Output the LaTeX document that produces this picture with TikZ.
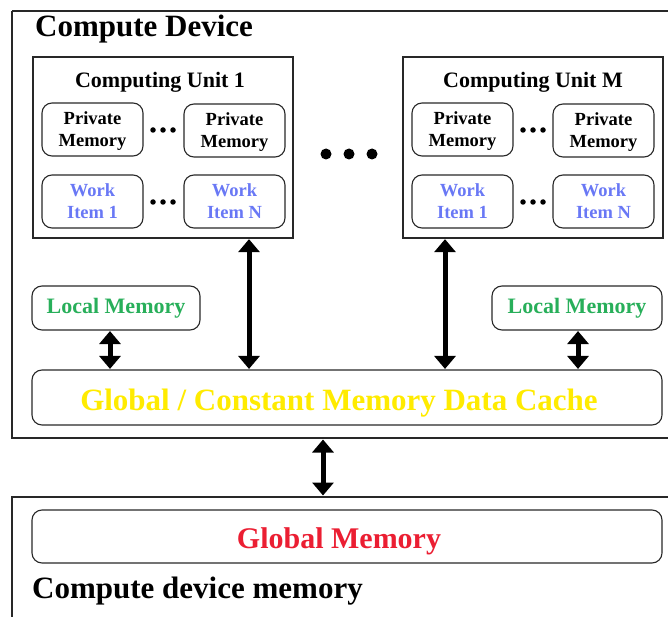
\documentclass[tikz,border=0pt]{standalone}
\usepackage{fontspec}
\setmainfont{Liberation Serif}
\usetikzlibrary{arrows.meta}

\definecolor{wiblue}{RGB}{105,120,245}
\definecolor{lmgreen}{RGB}{40,175,90}
\definecolor{cacheyellow}{RGB}{255,235,0}
\definecolor{gmred}{RGB}{235,30,50}
\definecolor{edge}{RGB}{40,40,40}

\tikzset{
  frame/.style={draw=edge, line width=1.4pt},
  unitbox/.style={draw=edge, line width=1.3pt, minimum width=260pt, minimum height=181pt, inner sep=0pt},
  rbox/.style={draw=edge, line width=1.1pt, rounded corners=10pt, inner sep=0pt, align=center,
               font=\bfseries\fontsize{18.5}{22}\selectfont},
  smallbox/.style={rbox, minimum width=101pt, minimum height=53pt},
  privbox/.style={smallbox, text depth=0pt},
  workbox/.style={smallbox, text=wiblue},
  widebox/.style={rbox, minimum width=630pt, text height=32pt, text depth=6pt},
  bigfont/.style={font=\bfseries\fontsize{31}{34}\selectfont},
  title/.style={bigfont, anchor=base west, inner sep=0pt},
  unittitle/.style={font=\bfseries\fontsize{22}{25}\selectfont, anchor=base, inner sep=0pt},
  dbl/.style={line width=5pt, {Triangle[width=21pt,length=13pt]}-{Triangle[width=21pt,length=13pt]}, shorten <=0.5pt, shorten >=0.5pt},
  sdot/.style={fill=black, circle, inner sep=0pt, minimum size=5.5pt},
  bdot/.style={fill=black, circle, inner sep=0pt, minimum size=11pt},
}

\begin{document}
\begin{tikzpicture}[x=1pt, y=-1pt]
\useasboundingbox (0,0) rectangle (668,617);

% compute device frame (runs past the right edge)
\draw[frame] (12,11) -- (680,11);
\draw[frame] (12,11) -- (12,438) -- (680,438);
\node[title] (cdtitle) at (35,37) {Compute Device};

% computing unit 1
\node[unitbox] (cu1) at (163,147.5) {};
\node[unittitle] (cu1t) at (160,88) {Computing Unit 1};
\node[privbox] (p11) at (92.5,129.5) {Private\\Memory};
\node[privbox] (p1n) at (234.5,130.5) {Private\\Memory};
\node[workbox] (w11) at (92.5,201.5) {Work\\Item 1};
\node[workbox] (w1n) at (234.5,201.5) {Work\\Item N};
\foreach \x in {153,163,173} {
  \node[sdot] (d1a\x) at (\x,130) {};
  \node[sdot] (d1b\x) at (\x,202) {};
}

% dots between computing units
\node[bdot] (bd1) at (326,154) {};
\node[bdot] (bd2) at (349,154) {};
\node[bdot] (bd3) at (372,154) {};

% computing unit M
\node[unitbox] (cum) at (533,147.5) {};
\node[unittitle] (cumt) at (533,88) {Computing Unit M};
\node[privbox] (pm1) at (462.5,129.5) {Private\\Memory};
\node[privbox] (pmn) at (603.5,130.5) {Private\\Memory};
\node[workbox] (wm1) at (462.5,201.5) {Work\\Item 1};
\node[workbox] (wmn) at (603.5,201.5) {Work\\Item N};
\foreach \x in {523,533,543} {
  \node[sdot] (dma\x) at (\x,130) {};
  \node[sdot] (dmb\x) at (\x,202) {};
}

% local memories
\node[rbox, minimum width=168pt, minimum height=44pt, text=lmgreen, font=\bfseries\fontsize{22}{25}\selectfont] (lm1) at (116,308) {Local Memory};
\node[rbox, minimum width=170pt, minimum height=44pt, text=lmgreen, font=\bfseries\fontsize{22}{25}\selectfont] (lm2) at (577,308) {Local Memory};

% global / constant cache
\node[widebox, minimum height=55pt, text=cacheyellow, bigfont] (cache) at (347,397.5) {\hspace*{-16pt}Global / Constant Memory Data Cache};

% connectors
\coordinate (a1) at (249,0);
\coordinate (a2) at (445,0);
\coordinate (a3) at (110,0);
\coordinate (a4) at (578,0);
\draw[dbl] (lm1.south -| a3) -- (cache.north -| a3);
\draw[dbl] (lm2.south -| a4) -- (cache.north -| a4);
\draw[dbl] (cu1.south -| a1) -- (cache.north -| a1);
\draw[dbl] (cum.south -| a2) -- (cache.north -| a2);

% compute device memory frame
\draw[frame] (12,617) -- (12,497) -- (680,497);
\node[widebox, minimum height=53pt, text=gmred, font=\bfseries\fontsize{30}{33}\selectfont, text height=30pt] (gmem) at (347,536.5) {\hspace*{-16pt}Global Memory};
\node[title] (cdmtitle) at (32,598) {Compute device memory};

\coordinate (b1) at (323,0);
\draw[dbl] (b1 |- 0,439) -- (b1 |- 0,496);
\end{tikzpicture}
\end{document}
